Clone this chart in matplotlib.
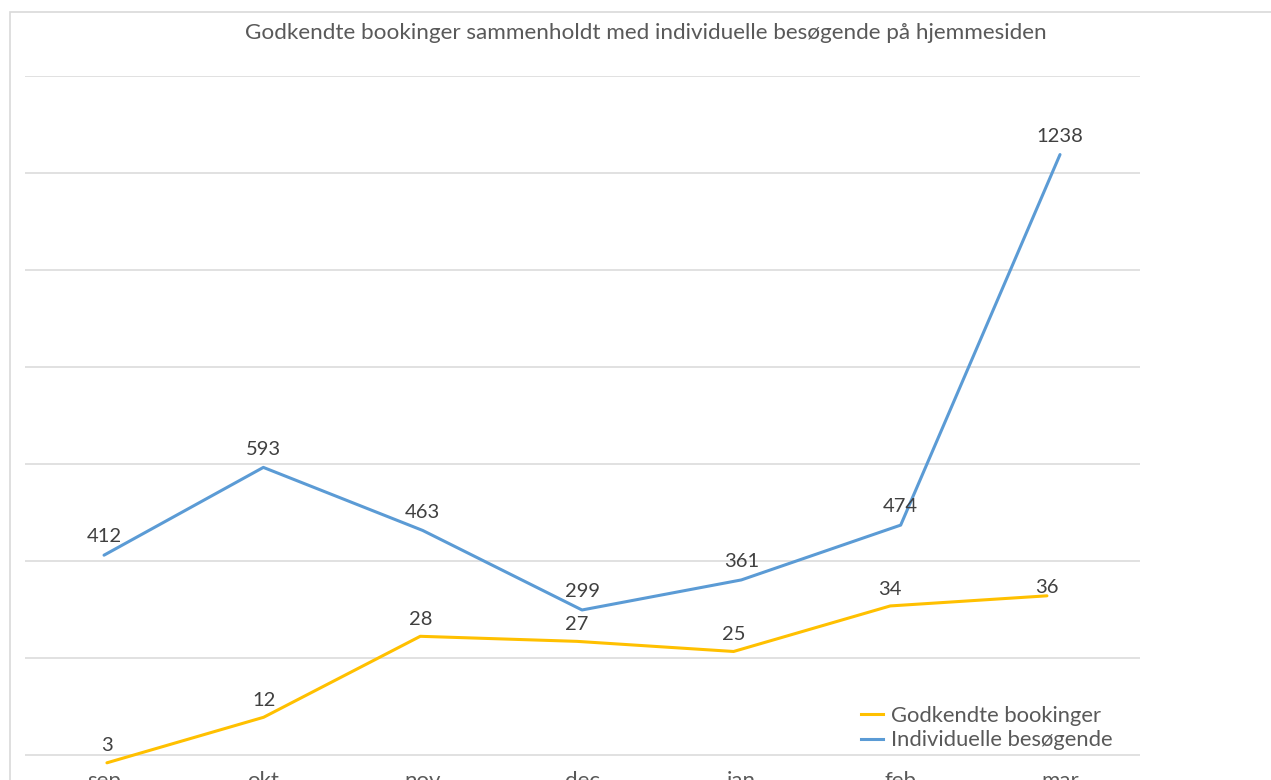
import numpy as np
import matplotlib.pyplot as plt
from matplotlib.patches import Rectangle

months = ['sep', 'okt', 'nov', 'dec', 'jan', 'feb', 'mar']
bookings = [3, 12, 28, 27, 25, 34, 36]
visitors = [412, 593, 463, 299, 361, 474, 1238]

plt.rcParams['font.family'] = ['Lato', 'DejaVu Sans']

W, H = 1271, 780
fig = plt.figure(figsize=(W / 100, H / 100), dpi=100)

# light border round the chart area (runs off the right/bottom edge)
fig.patches.append(Rectangle((10 / W, -0.1), 1.2, (H - 12) / H + 0.1,
                             transform=fig.transFigure, fill=False,
                             edgecolor='#d9d9d9', linewidth=1.2))

left, right, top, bottom = 25, 1140, 76, 765
ax = fig.add_axes([left / W, (H - bottom) / H, (right - left) / W, (bottom - top) / H])
ax2 = ax.twinx().twiny()

x = np.arange(len(months))

ax.plot(x, visitors, color='#5b9bd5', linewidth=2.2, solid_capstyle='round')
ax.set_xlim(-0.496, 6.502)
ax.set_ylim(-(bottom - 755) * 2.062, 1400)
ax.set_yticks(np.arange(0, 1401, 200))
ax.yaxis.grid(True, color='#d9d9d9', linewidth=1.1)
ax.set_axisbelow(True)
ax.tick_params(axis='y', length=0, labelleft=False)
ax.set_xticks(x)
ax.set_xticklabels(months, fontsize=16, color='#595959')
ax.tick_params(axis='x', length=0, pad=4)
for s in ax.spines.values():
    s.set_visible(False)

ax2.plot(x, bookings, color='#ffc000', linewidth=2.2, solid_capstyle='round')
ax2.set_xlim(-0.523, 6.594)
ax2.set_ylim((778 - bottom) * 0.1976, (778 - top) * 0.1976)
ax2.axis('off')
ax.figure.axes[1].axis('off')

for xi, v in zip(x, visitors):
    ax.annotate(str(v), (xi, v), xytext=(0, 7), textcoords='offset points',
                ha='center', va='bottom', fontsize=14.5, color='#404040')
for xi, v in zip(x, bookings):
    dy = 0 if xi == 6 else 6
    ax2.annotate(str(v), (xi, v), xytext=(0, dy), textcoords='offset points',
                 ha='center', va='bottom', fontsize=14.5, color='#404040')

fig.text(646 / W, (H - 33) / H,
         'Godkendte bookinger sammenholdt med individuelle besøgende på hjemmesiden',
         ha='center', va='center', fontsize=16.2, color='#595959')

h1, = ax.plot([], [], color='#ffc000', linewidth=2.2)
h2, = ax.plot([], [], color='#5b9bd5', linewidth=2.2)
fig.legend([h1, h2], ['Godkendte bookinger', 'Individuelle besøgende'],
           loc='upper left', bbox_to_anchor=(861 / W, (H - 706) / H),
           frameon=False, fontsize=15.8, labelcolor='#595959',
           handlelength=1.0, handletextpad=0.35, labelspacing=0.2,
           borderpad=0, borderaxespad=0)

fig.savefig('out.png', dpi=100, facecolor='white')
